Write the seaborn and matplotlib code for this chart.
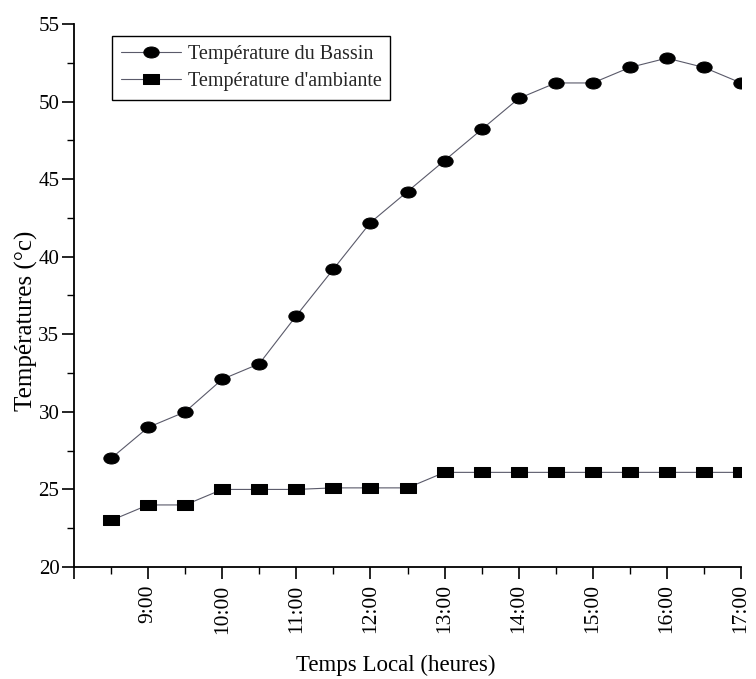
import numpy as np
import pandas as pd
import matplotlib
matplotlib.use("Agg")
import matplotlib.pyplot as plt
from matplotlib.path import Path
from matplotlib.transforms import Affine2D
from matplotlib.ticker import MultipleLocator, FixedLocator, FixedFormatter
import seaborn as sns

# ---- data ----
heures = [8.5, 9.0, 9.5, 10.0, 10.5, 11.0, 11.5, 12.0, 12.5,
          13.0, 13.5, 14.0, 14.5, 15.0, 15.5, 16.0, 16.5, 17.0]
temp_bassin = [27.0, 29.0, 30.0, 32.1, 33.1, 36.2, 39.2, 42.2, 44.2,
               46.2, 48.2, 50.2, 51.2, 51.2, 52.2, 52.8, 52.2, 51.2]
temp_ambiante = [23.0, 24.0, 24.0, 25.0, 25.0, 25.0, 25.1, 25.1, 25.1,
                 26.1, 26.1, 26.1, 26.1, 26.1, 26.1, 26.1, 26.1, 26.1]
tick_hours = [8, 9, 10, 11, 12, 13, 14, 15, 16, 17]
tick_labels = ["", "9:00", "10:00", "11:00", "12:00", "13:00", "14:00",
               "15:00", "16:00", "17:00"]
series_names = ["Température du Bassin", "Température d'ambiante"]

sns.set_theme(style="ticks")
plt.rcParams['font.family'] = ['Liberation Serif', 'DejaVu Serif']

df = pd.DataFrame({
    "heure": heures * 2,
    "temp": temp_bassin + temp_ambiante,
    "serie": [series_names[0]] * len(heures) + [series_names[1]] * len(heures),
})

# stretched markers (scan aspect)
ell = Path.unit_circle().transformed(Affine2D().scale(1.0, 0.72))
sq = Path([(-1, -0.68), (1, -0.68), (1, 0.68), (-1, 0.68), (-1, -0.68)],
          [Path.MOVETO, Path.LINETO, Path.LINETO, Path.LINETO, Path.CLOSEPOLY])

fig = plt.figure(figsize=(7.56, 6.79), dpi=100)
ax = fig.add_axes([74/756, 1-567/679, (741-74)/756, (567-24)/679])

line_col = "#5a5a6a"
sns.lineplot(data=df, x="heure", y="temp", hue="serie", style="serie",
             markers={series_names[0]: ell, series_names[1]: sq},
             dashes=False, palette={series_names[0]: line_col, series_names[1]: line_col},
             markersize=11, markerfacecolor="black", markeredgecolor="black",
             linewidth=0.8, ax=ax, legend=True)

for ln in ax.get_lines():
    ln.set_markerfacecolor("black")
    ln.set_markeredgecolor("black")

ax.set_xlim(8, 17)
ax.set_ylim(20, 55)
ax.xaxis.set_major_locator(FixedLocator(tick_hours))
ax.xaxis.set_major_formatter(FixedFormatter(tick_labels))
ax.xaxis.set_minor_locator(MultipleLocator(0.5))
ax.yaxis.set_major_locator(MultipleLocator(5))
ax.yaxis.set_minor_locator(MultipleLocator(2.5))
ax.tick_params(axis="x", which="major", length=8.5, width=1.2, labelsize=15.5,
               labelrotation=90, color="black", labelcolor="black", direction="out", pad=4)
ax.tick_params(axis="x", which="minor", length=5, width=1.0, color="black", direction="out")
ax.tick_params(axis="y", which="major", length=8.5, width=1.2, labelsize=15,
               color="black", labelcolor="black", direction="out", pad=2)
ax.tick_params(axis="y", which="minor", length=5, width=1.0, color="black", direction="out")

for s in ["top", "right"]:
    ax.spines[s].set_visible(False)
for s in ["left", "bottom"]:
    ax.spines[s].set_color("black")
    ax.spines[s].set_linewidth(1.3)

ax.set_xlabel("Temps Local (heures)", fontsize=16.5, color="black")
ax.xaxis.set_label_coords((396-74)/667, (567-655)/543)
ax.set_ylabel("Températures (°c)", fontsize=18, color="black")
ax.yaxis.set_label_coords((38-74)/667, (567-321)/543)

leg = ax.legend(loc="upper left", bbox_to_anchor=(0.057, 0.978), fontsize=14.5,
                frameon=True, fancybox=False, edgecolor="black", framealpha=1,
                handlelength=3.0, borderpad=0.45, labelspacing=0.4, handletextpad=0.3,
                borderaxespad=0)
leg.get_frame().set_linewidth(1.0)
for h in leg.legend_handles:
    h.set_markerfacecolor("black")
    h.set_markeredgecolor("black")
    h.set_color(line_col)

fig.savefig("out.png", dpi=100, facecolor="white")
